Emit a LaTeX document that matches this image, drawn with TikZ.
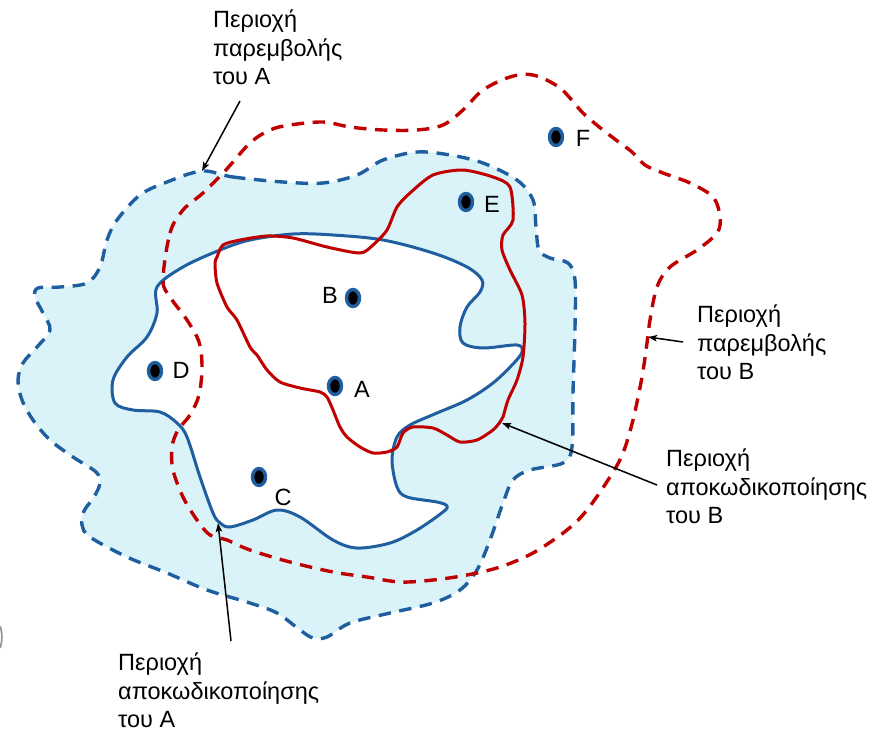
\documentclass[tikz,border=0pt]{standalone}
\usepackage{fontspec}
\setmainfont{Liberation Sans}
\usetikzlibrary{arrows.meta,shapes.geometric}

\definecolor{regblue}{HTML}{1F5F9F}
\definecolor{regred}{HTML}{C00000}
\definecolor{regfill}{HTML}{DAF3F8}

\tikzset{
  lbl/.style={font=\fontsize{23.5}{28.5}\selectfont, inner sep=0pt},
  caption/.style={lbl, anchor=north west, align=left},
  station/.style={ellipse, draw=regblue, fill=black, line width=3.4pt,
                  minimum width=13pt, minimum height=17pt, inner sep=0pt},
  pointer/.style={line width=1.5pt, -{Stealth[length=9pt,width=6.5pt,inset=2pt]}},
  dashline/.style={line width=3.4pt, dash pattern=on 12.5pt off 8.5pt},
  solidline/.style={line width=3pt},
}

\begin{document}
\begin{tikzpicture}[x=1pt,y=-1pt,line join=round]
\useasboundingbox (0,0) rectangle (884,731);

% interference region of A (shaded band)
\fill[regfill] plot[smooth cycle, tension=0.55] coordinates {
  (202,171) (233,177) (283,182) (323,183) (357,175) (383,160) (417,152)
  (450,155) (483,163) (517,180) (533,200) (536,227) (539,250) (550,258)
  (568,263) (575,280) (575,327) (573,393) (572,447) (563,463) (530,470)
  (513,480) (503,503) (490,540) (477,570) (460,590) (433,603) (390,613)
  (350,623) (327,637) (313,638) (300,630) (277,613) (250,603) (207,590)
  (167,573) (127,557) (90,537) (82,525) (84,511) (94,497) (100,483)
  (96,472) (73,457) (50,440) (33,420) (22,400) (18,380) (23,363) (37,347)
  (50,330) (43,313) (35,297) (38,288) (60,287) (87,283) (100,267)
  (107,240) (117,220) (140,195) (167,182)};

% decoding region of A (white interior)
\fill[white] plot[smooth cycle, tension=0.55] coordinates {
  (157,287) (183,267) (220,250) (250,240) (293,234) (333,235) (383,240)
  (433,253) (467,267) (482,280) (480,292) (467,307) (460,327) (463,343)
  (483,348) (517,345) (522,352) (513,364) (493,383) (467,400) (437,413)
  (410,425) (397,437) (392,460) (397,487) (407,497) (437,502) (447,506)
  (443,512) (417,530) (390,543) (357,548) (333,540) (300,517) (277,510)
  (253,520) (230,527) (220,523) (213,513) (200,477) (187,437) (177,423)
  (160,412) (133,410) (115,403) (113,380) (127,357) (147,337) (157,313)};

% outlines of the regions of A
\draw[regblue, dashline] plot[smooth cycle, tension=0.55] coordinates {
  (202,171) (233,177) (283,182) (323,183) (357,175) (383,160) (417,152)
  (450,155) (483,163) (517,180) (533,200) (536,227) (539,250) (550,258)
  (568,263) (575,280) (575,327) (573,393) (572,447) (563,463) (530,470)
  (513,480) (503,503) (490,540) (477,570) (460,590) (433,603) (390,613)
  (350,623) (327,637) (313,638) (300,630) (277,613) (250,603) (207,590)
  (167,573) (127,557) (90,537) (82,525) (84,511) (94,497) (100,483)
  (96,472) (73,457) (50,440) (33,420) (22,400) (18,380) (23,363) (37,347)
  (50,330) (43,313) (35,297) (38,288) (60,287) (87,283) (100,267)
  (107,240) (117,220) (140,195) (167,182)};
\draw[regblue, solidline] plot[smooth cycle, tension=0.55] coordinates {
  (157,287) (183,267) (220,250) (250,240) (293,234) (333,235) (383,240)
  (433,253) (467,267) (482,280) (480,292) (467,307) (460,327) (463,343)
  (483,348) (517,345) (522,352) (513,364) (493,383) (467,400) (437,413)
  (410,425) (397,437) (392,460) (397,487) (407,497) (437,502) (447,506)
  (443,512) (417,530) (390,543) (357,548) (333,540) (300,517) (277,510)
  (253,520) (230,527) (220,523) (213,513) (200,477) (187,437) (177,423)
  (160,412) (133,410) (115,403) (113,380) (127,357) (147,337) (157,313)};

% interference region of B
\draw[regred, dashline] plot[smooth cycle, tension=0.55] coordinates {
  (163,280) (170,233) (183,210) (203,193) (225,171) (250,143) (270,130)
  (290,125) (323,122) (350,127) (383,130) (417,130) (443,125) (463,110)
  (483,90) (510,77) (533,75) (560,88) (583,113) (603,130) (620,143)
  (632,152) (645,165) (663,173) (690,183) (713,197) (720,217) (717,233)
  (697,250) (670,267) (657,287) (650,320) (647,343) (642,377) (633,420)
  (623,453) (610,477) (587,510) (567,530) (533,553) (500,567) (467,575)
  (433,580) (400,582) (367,577) (333,572) (290,562) (250,550) (227,540)
  (210,535) (197,520) (183,497) (173,470) (172,447) (178,430) (190,415)
  (199,395) (202,367) (199,342) (187,320) (170,297)};

% decoding region of B
\draw[regred, solidline] plot[smooth cycle, tension=0.45] coordinates {
  (217,257) (223,245) (240,240) (267,236) (293,238) (327,247) (360,253)
  (373,245) (387,230) (397,207) (410,193) (433,175) (463,170) (493,177)
  (510,187) (513,220) (503,235) (502,250) (510,270) (522,295) (525,323)
  (523,357) (517,380) (508,400) (503,417) (500,422) (493,430) (477,440)
  (460,442) (447,435) (433,428) (413,427) (403,433) (397,447) (387,452)
  (373,453) (360,447) (347,437) (340,427) (333,410) (327,397) (320,392)
  (300,388) (280,382) (267,370) (257,355) (250,347) (237,320) (227,307)
  (217,283) (215,263)};

% small mark at the left margin
\draw[gray!80, line width=1.8pt] (0,626) .. controls (2.5,632) and (2.5,642) .. (0,648);

% stations and their letters
\node[station] (dA) at (335,386) {};
\node[station] (dB) at (353,298) {};
\node[station] (dC) at (259,477) {};
\node[station] (dD) at (155,371) {};
\node[station] (dE) at (466,202) {};
\node[station] (dF) at (556,137) {};
\node[lbl] (lA) at (362,389) {A};
\node[lbl] (lB) at (330,295) {B};
\node[lbl] (lC) at (283,497) {C};
\node[lbl] (lD) at (181,370) {D};
\node[lbl] (lE) at (492,204) {E};
\node[lbl] (lF) at (583,138) {F};

% captions
\node[caption] (capIA) at (213,10) {Περιοχή\\παρεμβολής\\του A};
\node[caption] (capIB) at (697,305) {Περιοχή\\παρεμβολής\\του B};
\node[caption] (capDB) at (666,449) {Περιοχή\\αποκωδικοποίησης\\του B};
\node[caption] (capDA) at (118,653) {Περιοχή\\αποκωδικοποίησης\\του A};

% pointer ends
\coordinate (tailIA) at (240,101);
\coordinate (tipIA) at (202,171);
\coordinate (tailIB) at (683,342);
\coordinate (tipIB) at (648,337);
\coordinate (tailDB) at (657,485);
\coordinate (tipDB) at (502,423);
\coordinate (tailDA) at (231,641);
\coordinate (tipDA) at (218,523);

\draw[pointer] (tailIA) -- (tipIA);
\draw[pointer] (tailIB) -- (tipIB);
\draw[pointer] (tailDB) -- (tipDB);
\draw[pointer] (tailDA) -- (tipDA);
\end{tikzpicture}
\end{document}
